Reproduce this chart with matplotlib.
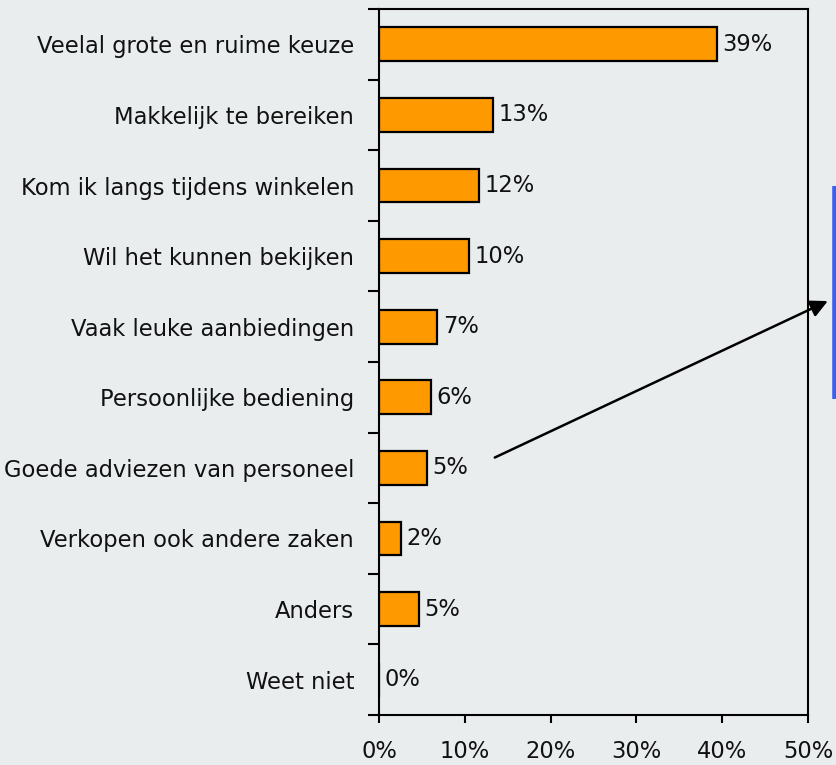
import matplotlib
matplotlib.use("Agg")
import matplotlib.pyplot as plt
import numpy as np

# categories and values (percentages)
categories = [
    "Veelal grote en ruime keuze",
    "Makkelijk te bereiken",
    "Kom ik langs tijdens winkelen",
    "Wil het kunnen bekijken",
    "Vaak leuke aanbiedingen",
    "Persoonlijke bediening",
    "Goede adviezen van personeel",
    "Verkopen ook andere zaken",
    "Anders",
    "Weet niet",
]
values = [39.35, 13.25, 11.6, 10.5, 6.8, 6.05, 5.55, 2.55, 4.65, 0.0]
value_labels = ["39%", "13%", "12%", "10%", "7%", "6%", "5%", "2%", "5%", "0%"]
x_ticks = [0, 10, 20, 30, 40, 50]
x_tick_labels = ["0%", "10%", "20%", "30%", "40%", "50%"]

bg = "#e9edee"
fs = 16.3
plt.rcParams["font.family"] = ["DejaVu Sans"]

fig = plt.figure(figsize=(8.36, 7.65), dpi=100, facecolor=bg)
ax = fig.add_axes([379 / 836, 1 - 715 / 765, (808 - 379) / 836, (715 - 9) / 765])
ax.set_facecolor(bg)

y = np.arange(len(categories))
ax.barh(y, values, height=0.48, color="#ff9900", edgecolor="black", linewidth=1.6)

# value labels right of bars
for yi, v, lab in zip(y, values, value_labels):
    ax.annotate(lab, xy=(v, yi), xytext=(4, 0), textcoords="offset points",
                ha="left", va="center", fontsize=fs, color="#111111")

ax.set_xlim(0, 50)
ax.set_ylim(len(categories) - 0.5, -0.5)

ax.set_xticks(x_ticks)
ax.set_xticklabels(x_tick_labels, fontsize=fs, color="#111111")
ax.tick_params(axis="x", direction="out", length=6, width=1.5, pad=12)

# category labels at centres, tick marks at the boundaries
ax.set_yticks(y)
ax.set_yticklabels(categories, fontsize=fs, color="#111111")
ax.set_yticks(np.arange(len(categories) + 1) - 0.5, minor=True)
ax.tick_params(axis="y", which="major", length=0, pad=18)
ax.tick_params(axis="y", which="minor", direction="out", length=8, width=1.5)

for s in ax.spines.values():
    s.set_linewidth(1.5)

# arrow pointing to a box off to the right
ax.annotate("", xy=(52.6, 3.62), xytext=(13.2, 5.87),
            arrowprops=dict(arrowstyle="-|>", color="black", lw=1.8, mutation_scale=26),
            annotation_clip=False)
ax.plot([53.1, 53.1], [2.01, 5.02], color="#3a5ff2", lw=4, clip_on=False,
        solid_capstyle="butt")

fig.savefig("out.png", dpi=100, facecolor=bg)
